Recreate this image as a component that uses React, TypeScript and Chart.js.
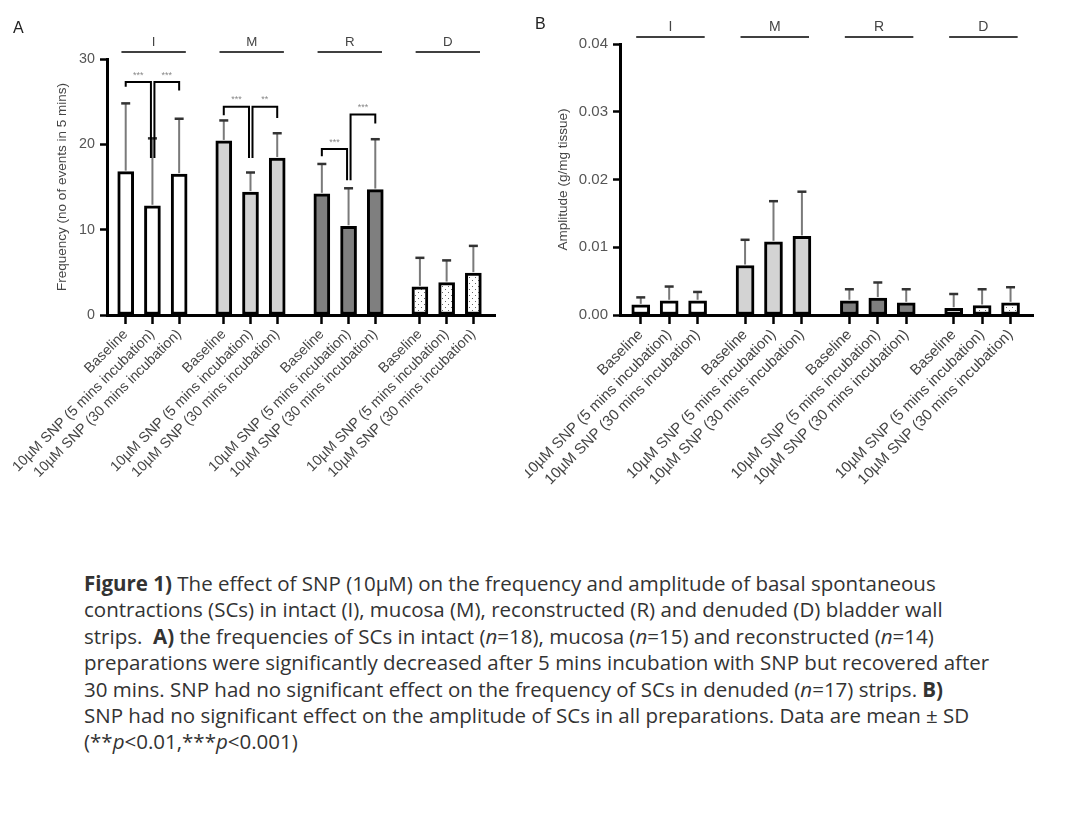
import React, { useEffect, useRef } from 'react';
import { Chart, registerables } from 'chart.js';
Chart.register(...registerables);

// ---------- data ----------
const groupNames = ['I', 'M', 'R', 'D'];
const conditions = ['Baseline', '10µM SNP (5 mins incubation)', '10µM SNP (30 mins incubation)'];

const freqMean = [16.8, 12.8, 16.5, 20.4, 14.4, 18.4, 14.2, 10.4, 14.7, 3.3, 3.8, 4.9];
const freqSD = [8.0, 7.9, 6.5, 2.4, 2.3, 2.9, 3.5, 4.45, 5.9, 3.4, 2.6, 3.2];

const ampMean = [0.0015, 0.0021, 0.0021, 0.0073, 0.0108, 0.0116, 0.0021, 0.0025, 0.0018, 0.001, 0.0014, 0.0018];
const ampSD = [0.0011, 0.0021, 0.0013, 0.0038, 0.006, 0.0066, 0.0017, 0.0023, 0.002, 0.0021, 0.0024, 0.0023];

const freqTicks = [0, 10, 20, 30];
const ampTicks = [0, 0.01, 0.02, 0.03, 0.04];

// significance brackets: bar indices, bracket height, leg ends (data units)
const freqBrackets = [
  { from: 0, to: 1, y: 27.3, yFrom: 26.75, yTo: 18.4, label: '***' },
  { from: 1, to: 2, y: 27.3, yFrom: 18.4, yTo: 26.3, label: '***' },
  { from: 3, to: 4, y: 24.4, yFrom: 23.4, yTo: 18.4, label: '***' },
  { from: 4, to: 5, y: 24.4, yFrom: 18.4, yTo: 23.1, label: '**' },
  { from: 6, to: 7, y: 19.45, yFrom: 18.6, yTo: 15.8, label: '***' },
  { from: 7, to: 8, y: 23.5, yFrom: 15.8, yTo: 22.45, label: '***' },
];
const ampBrackets: typeof freqBrackets = [];

const GROUP_STEP = 3.67;
const positions = freqMean.map((_, i) => Math.floor(i / 3) * GROUP_STEP + (i % 3));

const FONT = '"Liberation Sans", Arial, sans-serif';

function dotPattern(): CanvasPattern | string {
  const c = document.createElement('canvas');
  c.width = 6;
  c.height = 6;
  const g = c.getContext('2d');
  if (!g) return '#fff';
  g.fillStyle = '#ffffff';
  g.fillRect(0, 0, 6, 6);
  g.fillStyle = '#666';
  g.fillRect(1, 1, 1, 1);
  g.fillRect(4, 4, 1, 1);
  return g.createPattern(c, 'repeat') || '#fff';
}

type Cfg = {
  means: number[];
  sds: number[];
  brackets: typeof freqBrackets;
  yMax: number;
  yTicks: number[];
  yTitle: string;
  yFmt: (v: number) => string;
  width: number;
  height: number;
  padTop: number;
  padRight: number;
  yAxisWidth: number;
  xAxisHeight: number;
  titlePad: number;
  barThickness: number;
  fontSize: number;
  xMin: number;
  xMax: number;
};

function BarPanel({ cfg, style }: { cfg: Cfg; style: React.CSSProperties }) {
  const ref = useRef<HTMLCanvasElement | null>(null);
  useEffect(() => {
    if (!ref.current) return;
    const pattern = dotPattern();
    const groupFill = ['#ffffff', '#d3d3d3', '#7f7f7f', pattern];
    const fills = cfg.means.map((_, i) => groupFill[Math.floor(i / 3)]);

    const annot = {
      id: 'annot',
      afterDatasetsDraw(chart: any) {
        const { ctx, chartArea } = chart;
        const xs = chart.scales.x;
        const ys = chart.scales.y;
        const unit = xs.getPixelForValue(1) - xs.getPixelForValue(0);
        ctx.save();
        // error bars
        cfg.means.forEach((m, i) => {
          const x = xs.getPixelForValue(positions[i]);
          const y0 = ys.getPixelForValue(m);
          const y1 = ys.getPixelForValue(m + cfg.sds[i]);
          ctx.strokeStyle = '#7a7a7a';
          ctx.lineWidth = 2;
          ctx.beginPath();
          ctx.moveTo(x, y0 - 1);
          ctx.lineTo(x, y1);
          ctx.stroke();
          ctx.strokeStyle = '#333';
          ctx.lineWidth = 2.5;
          ctx.beginPath();
          ctx.moveTo(x - 4.5, y1);
          ctx.lineTo(x + 4.5, y1);
          ctx.stroke();
        });
        // brackets
        cfg.brackets.forEach((b) => {
          let xa = xs.getPixelForValue(positions[b.from]);
          let xb = xs.getPixelForValue(positions[b.to]);
          if (cfg.brackets.some((o) => o.to === b.from)) xa += 2;
          if (cfg.brackets.some((o) => o.from === b.to)) xb -= 1.5;
          const y = ys.getPixelForValue(b.y);
          ctx.strokeStyle = '#000';
          ctx.lineWidth = 2;
          ctx.beginPath();
          ctx.moveTo(xa, ys.getPixelForValue(b.yFrom));
          ctx.lineTo(xa, y);
          ctx.lineTo(xb, y);
          ctx.lineTo(xb, ys.getPixelForValue(b.yTo));
          ctx.stroke();
          ctx.fillStyle = '#888';
          ctx.font = `9px ${FONT}`;
          ctx.textAlign = 'center';
          ctx.textBaseline = 'middle';
          ctx.fillText(b.label, (xa + xb) / 2, y - 7);
        });
        // group headers
        groupNames.forEach((name, g) => {
          const x1 = xs.getPixelForValue(positions[g * 3]) - 0.16 * unit;
          const x2 = xs.getPixelForValue(positions[g * 3 + 2]) + 0.25 * unit;
          const ly = chartArea.top - 7;
          ctx.strokeStyle = '#000';
          ctx.lineWidth = 1.5;
          ctx.beginPath();
          ctx.moveTo(x1, ly);
          ctx.lineTo(x2, ly);
          ctx.stroke();
          ctx.fillStyle = '#444';
          ctx.font = `${cfg.fontSize - 1}px ${FONT}`;
          ctx.textAlign = 'center';
          ctx.textBaseline = 'middle';
          ctx.fillText(name, (x1 + x2) / 2, ly - 10);
        });
        ctx.restore();
      },
    };

    const chart = new Chart(ref.current, {
      type: 'bar',
      data: {
        datasets: [
          {
            data: cfg.means.map((m, i) => ({ x: positions[i], y: m })),
            backgroundColor: fills as any,
            borderColor: '#000',
            borderWidth: 3,
            borderSkipped: false,
            barThickness: cfg.barThickness,
          } as any,
        ],
      },
      options: {
        responsive: false,
        animation: false,
        devicePixelRatio: 1,
        layout: { padding: { left: 0, top: cfg.padTop, right: cfg.padRight, bottom: 0 } },
        plugins: { legend: { display: false }, tooltip: { enabled: false } },
        scales: {
          x: {
            type: 'linear',
            offset: false,
            min: cfg.xMin,
            max: cfg.xMax,
            afterBuildTicks: (s: any) => {
              s.ticks = positions.map((v) => ({ value: v }));
            },
            afterFit: (s: any) => {
              s.height = cfg.xAxisHeight;
              s.paddingLeft = 0;
              s.paddingRight = 0;
            },
            grid: { offset: false, drawOnChartArea: false, tickLength: 9, tickColor: '#000', tickWidth: 2.5 },
            border: { color: '#000', width: 3 },
            ticks: {
              autoSkip: false,
              minRotation: 45,
              maxRotation: 45,
              padding: 2,
              color: '#444',
              font: { family: FONT, size: cfg.fontSize },
              callback: (_v: any, idx: number) => conditions[idx % 3],
            },
          },
          y: {
            min: 0,
            max: cfg.yMax,
            afterBuildTicks: (s: any) => {
              s.ticks = cfg.yTicks.map((v) => ({ value: v }));
            },
            afterFit: (s: any) => {
              s.width = cfg.yAxisWidth;
            },
            grid: { drawOnChartArea: false, tickLength: 7, tickColor: '#000', tickWidth: 2.5 },
            border: { color: '#000', width: 3 },
            ticks: {
              padding: 5,
              color: '#555',
              font: { family: FONT, size: cfg.fontSize },
              callback: (v: any) => cfg.yFmt(Number(v)),
            },
            title: {
              display: true,
              text: cfg.yTitle,
              color: '#444',
              font: { family: FONT, size: 13.5 },
              padding: { top: cfg.titlePad, bottom: 0 },
            },
          },
        },
      } as any,
      plugins: [annot],
    });
    return () => chart.destroy();
  }, []);
  return <canvas ref={ref} width={cfg.width} height={cfg.height} style={{ display: 'block', position: 'absolute', ...style }} />;
}

const cfgA: Cfg = {
  means: freqMean,
  sds: freqSD,
  brackets: freqBrackets,
  yMax: 30,
  yTicks: freqTicks,
  yTitle: 'Frequency (no of events in 5 mins)',
  yFmt: (v) => String(v),
  width: 525,
  height: 480,
  padTop: 59,
  padRight: 30,
  yAxisWidth: 107,
  xAxisHeight: 165,
  titlePad: 54,
  barThickness: 16,
  fontSize: 14.3,
  xMin: -0.7,
  xMax: 3 * GROUP_STEP + 2 + 0.81,
};

const cfgB: Cfg = {
  means: ampMean,
  sds: ampSD,
  brackets: ampBrackets,
  yMax: 0.04,
  yTicks: ampTicks,
  yTitle: 'Amplitude (g/mg tissue)',
  yFmt: (v) => v.toFixed(2),
  width: 555,
  height: 490,
  padTop: 44,
  padRight: 47,
  yAxisWidth: 95,
  xAxisHeight: 175,
  titlePad: 30,
  barThickness: 18,
  fontSize: 15,
  xMin: -0.73,
  xMax: 3 * GROUP_STEP + 2 + 0.79,
};

export default function App() {
  return (
    <div>
      <BarPanel cfg={cfgA} style={{ left: 0, top: 0 }} />
      <BarPanel cfg={cfgB} style={{ left: 525, top: 0 }} />
      <div style={{ position: 'absolute', left: 13, top: 19, font: `16px ${FONT}`, color: '#222' }}>A</div>
      <div style={{ position: 'absolute', left: 535, top: 15, font: `16px ${FONT}`, color: '#222' }}>B</div>
      <div
        style={{
          position: 'absolute',
          left: 84,
          top: 570,
          fontFamily: '"Open Sans", "Noto Sans", sans-serif',
          fontSize: 20.5,
          lineHeight: '26.4px',
          color: '#333',
          whiteSpace: 'nowrap',
        }}
      >
        <b>Figure 1)</b> The effect of SNP (10µM) on the frequency and amplitude of basal spontaneous
        <br />
        contractions (SCs) in intact (I), mucosa (M), reconstructed (R) and denuded (D) bladder wall
        <br />
        strips.&nbsp; <b>A)</b> the frequencies of SCs in intact (<i>n</i>=18), mucosa (<i>n</i>=15) and reconstructed (<i>n</i>=14)
        <br />
        preparations were significantly decreased after 5 mins incubation with SNP but recovered after
        <br />
        30 mins. SNP had no significant effect on the frequency of SCs in denuded (<i>n</i>=17) strips. <b>B)</b>
        <br />
        SNP had no significant effect on the amplitude of SCs in all preparations. Data are mean ± SD
        <br />
        (**<i>p</i>&lt;0.01,***<i>p</i>&lt;0.001)
      </div>
    </div>
  );
}
